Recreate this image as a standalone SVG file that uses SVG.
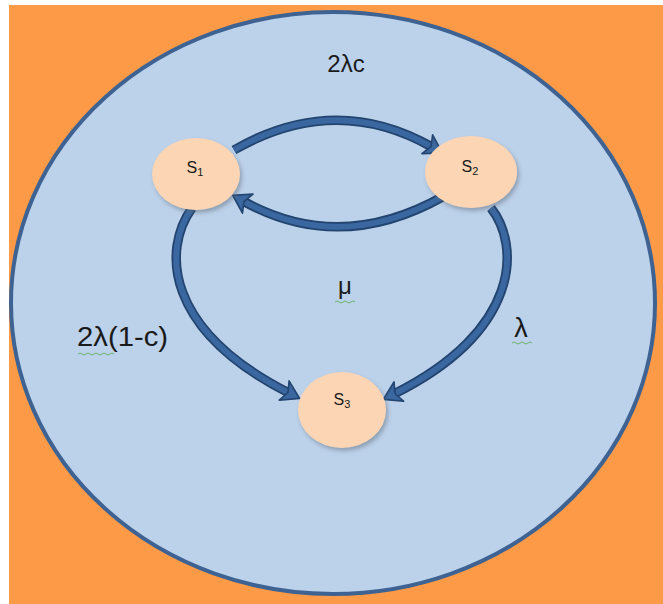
<svg xmlns="http://www.w3.org/2000/svg" width="663" height="604" viewBox="0 0 663 604">
  <style>
    .node { fill: #fcd5b4; filter: url(#shadow); }
    .lbl { font-family: "Liberation Sans", "DejaVu Sans", sans-serif; fill: #1a1a1a; }
    .nlbl { font-family: "Liberation Sans", "DejaVu Sans", sans-serif; font-size: 16px; fill: #1a1a1a; text-anchor: middle; }
    .arrow-out { fill: none; stroke: #22446e; stroke-width: 9.5; }
    .arrow-in { fill: none; stroke: #3a67a0; stroke-width: 6; marker-end: url(#head); }
    .squig { fill: none; stroke: #6ab46a; stroke-width: 1; }
  </style>
  <defs>
    <filter id="shadow" x="-20%" y="-20%" width="150%" height="150%">
      <feDropShadow dx="2" dy="3" stdDeviation="2" flood-color="#556070" flood-opacity="0.45"/>
    </filter>
    <marker id="head" markerUnits="userSpaceOnUse" markerWidth="22" markerHeight="26" viewBox="-2 -12 20 24" refX="4" refY="0" orient="auto">
      <polygon points="-1,-10 15,0 -1,10 3,0" fill="#3a67a0" stroke="#22446e" stroke-width="1.5" stroke-linejoin="round"/>
    </marker>
  </defs>

  <rect x="0" y="0" width="663" height="604" fill="#ffffff"/>
  <rect x="9" y="5" width="654" height="599" fill="#fc9a47"/>

  <ellipse id="outer" cx="333" cy="303" rx="322" ry="291" fill="#bcd1ea" stroke="#3e6393" stroke-width="4"/>

  <g id="connectors">
    <path class="arrow-out" d="M 234,150 Q 335,92 432,147"/>
    <path class="arrow-in" d="M 234,150 Q 335,92 432,147"/>
    <path class="arrow-out" d="M 444,196 Q 340,255 243,201"/>
    <path class="arrow-in" d="M 444,196 Q 340,255 243,201"/>
    <path class="arrow-out" d="M 192,208 C 162,250 165,330 289,393"/>
    <path class="arrow-in" d="M 192,208 C 162,250 165,330 289,393"/>
    <path class="arrow-out" d="M 491,208 C 520,245 522,330 394,394"/>
    <path class="arrow-in" d="M 491,208 C 520,245 522,330 394,394"/>
  </g>

  <g id="s1">
    <ellipse class="node" cx="196" cy="174" rx="44" ry="36"/>
    <text class="nlbl" x="195" y="173">S<tspan font-size="11" dy="3">1</tspan></text>
  </g>
  <g id="s2">
    <ellipse class="node" cx="471" cy="172" rx="46" ry="36"/>
    <text class="nlbl" x="470" y="172">S<tspan font-size="11" dy="3">2</tspan></text>
  </g>
  <g id="s3">
    <ellipse class="node" cx="342" cy="410" rx="44" ry="38"/>
    <text class="nlbl" x="342" y="405">S<tspan font-size="11" dy="3">3</tspan></text>
  </g>

  <g id="labels">
    <text class="lbl" x="346" y="72" font-size="24" text-anchor="middle">2λc</text>
    <text class="lbl" x="345" y="294" font-size="24" text-anchor="middle">μ</text>
    <text class="lbl" x="77" y="346" font-size="28" textLength="91" lengthAdjust="spacingAndGlyphs">2λ(1-c)</text>
    <text class="lbl" x="521" y="337" font-size="27" text-anchor="middle">λ</text>
    <path class="squig" d="M 78,354 q 2,-2 4,0 t 4,0 t 4,0 t 4,0 t 4,0 t 4,0 t 4,0 t 4,0 t 4,0"/>
    <path class="squig" d="M 335,302 q 2,-2 4,0 t 4,0 t 4,0 t 4,0 t 4,0"/>
    <path class="squig" d="M 512,343 q 2,-2 4,0 t 4,0 t 4,0 t 4,0 t 4,0"/>
  </g>
</svg>
